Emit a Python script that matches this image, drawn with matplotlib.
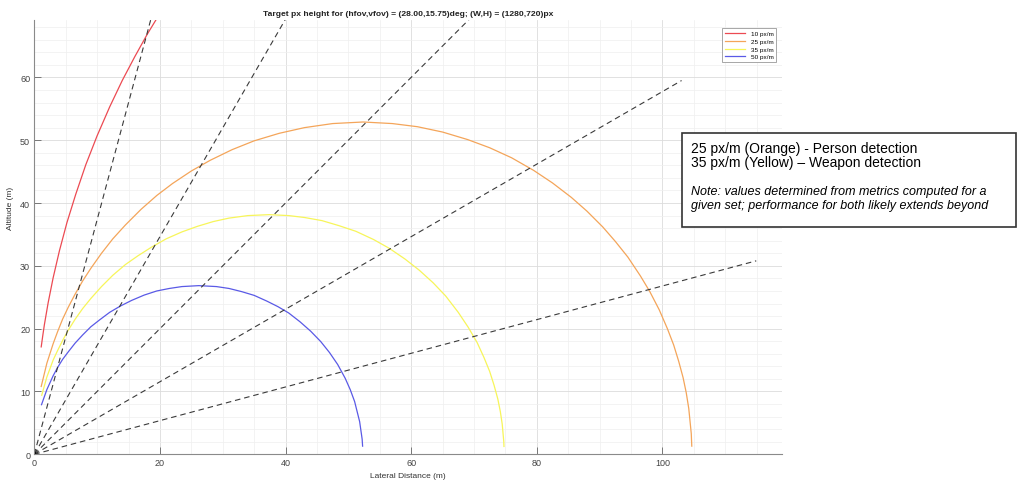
import numpy as np
import matplotlib
matplotlib.use("Agg")
import matplotlib.pyplot as plt
from matplotlib.patches import Rectangle
from matplotlib.ticker import MultipleLocator

plt.rcParams["font.family"] = ["Liberation Sans", "DejaVu Sans"]

# curves (lateral distance, altitude), one per px/m level
labels = ["10 px/m", "25 px/m", "35 px/m", "50 px/m"]
colors = ["#ec4a52", "#f4a55a", "#f7f55a", "#5a5ae6"]

x_10 = [1.1, 1.35, 1.6, 2.2, 3, 4, 5.2, 6.6, 8.2, 10, 12, 14, 16, 18, 19.7, 21]
y_10 = [17.1, 18.9, 20.6, 24.1, 28.1, 32.4, 36.9, 41.4, 46.1, 50.7, 55.3, 59.5, 63.3, 66.9, 69.7, 71.8]

x_25 = [1.1, 2, 3, 3.7, 4.5, 5.4, 6.5, 7.7, 9, 10.7, 12.5, 14.5, 17, 19.5, 22, 25, 28,
        31.5, 35, 39, 43, 47.5, 52.35, 57, 61, 65, 69, 72.5, 76, 79.5, 82.5, 85.5, 88,
        90.5, 92.5, 94.5, 96.5, 98, 99.5, 100.8, 101.8, 102.6, 103.3, 103.8, 104.2,
        104.6, 104.68]
y_25 = [10.8, 14.5, 17.6, 19.5, 21.5, 23.4, 25.5, 27.6, 29.6, 32.0, 34.3, 36.5, 39.0,
        41.2, 43.1, 45.1, 46.8, 48.5, 49.9, 51.1, 52.0, 52.65, 52.9, 52.65, 52.15, 51.3,
        50.1, 48.8, 47.2, 45.2, 43.2, 40.9, 38.7, 36.2, 33.9, 31.4, 28.4, 25.9, 23.0,
        20.0, 17.4, 14.8, 12.2, 9.8, 7.3, 3.3, 1.3]

x_35 = [1.18, 2, 3, 3.7, 4.5, 5.4, 6.5, 7.7, 9, 10.7, 12.5, 14.5, 16.5, 18.7, 21, 23.5,
        26, 28.5, 31, 34, 37.4, 40.5, 43, 45.8, 48.5, 51.2, 54, 56.5, 59, 61.3, 63.5,
        65.5, 67.5, 69.1, 70.5, 71.6, 72.5, 73.2, 73.8, 74.2, 74.5, 74.75, 74.78]
y_35 = [9.4, 12.3, 15.0, 16.5, 18.1, 19.75, 21.5, 23.2, 24.8, 26.7, 28.5, 30.2, 31.6,
        33.0, 34.3, 35.4, 36.3, 37.05, 37.6, 38.0, 38.15, 38.0, 37.7, 37.2, 36.4, 35.5,
        34.2, 32.8, 31.1, 29.3, 27.3, 25.2, 22.6, 20.2, 17.8, 15.4, 13.2, 11.0, 8.8,
        6.8, 4.8, 2.0, 1.25]

x_50 = [1.15, 2, 3, 3.7, 4.5, 5.4, 6.5, 7.7, 9, 10.4, 12, 13.7, 15.5, 17.5, 19.5, 21.5,
        23.5, 26.2, 29, 31, 33, 35, 37, 38.8, 40.5, 42.3, 44, 45.6, 47, 48.3, 49.5, 50.3,
        51, 51.8, 52.2, 52.27]
y_50 = [7.9, 10.3, 12.5, 13.8, 15.1, 16.3, 17.7, 19.0, 20.3, 21.4, 22.6, 23.6, 24.5,
        25.35, 26.0, 26.4, 26.7, 26.85, 26.7, 26.4, 25.9, 25.3, 24.4, 23.5, 22.5, 21.1,
        19.6, 17.95, 16.2, 14.3, 12.1, 10.3, 8.4, 5.2, 2.4, 1.3]

curves_x = [x_10, x_25, x_35, x_50]
curves_y = [y_10, y_25, y_35, y_50]

# dashed sight lines from the camera
ray_angles = [15, 30, 45, 60, 75]
ray_length = 119

fig = plt.figure(figsize=(10.2, 4.81), dpi=100)
ax = fig.add_axes([0.03363, 0.05343, 0.73275, 0.90374])

for xs, ys, c, lab in zip(curves_x, curves_y, colors, labels):
    ax.plot(xs, ys, color=c, lw=0.9, label=lab)

for a in ray_angles:
    t = np.radians(a)
    ax.plot([0, ray_length * np.cos(t)], [0, ray_length * np.sin(t)],
            color="#3a3a3a", lw=0.8, ls=(0, (5, 3.5)))

ax.plot([0], [0], marker="^", color="black", ms=4)

ax.set_xlim(0, 119)
ax.set_ylim(0, 69.2)
ax.xaxis.set_major_locator(MultipleLocator(20))
ax.yaxis.set_major_locator(MultipleLocator(10))
ax.xaxis.set_minor_locator(MultipleLocator(5))
ax.yaxis.set_minor_locator(MultipleLocator(2))
ax.grid(True, which="major", color="#dcdcdc", lw=0.6)
ax.grid(True, which="minor", color="#efefef", lw=0.5)
ax.set_axisbelow(True)
ax.tick_params(which="major", direction="in", length=5, width=0.6, colors="#666666",
               labelsize=6.5, labelcolor="#444444", pad=3)
ax.tick_params(which="minor", length=0)
for s in ["top", "right"]:
    ax.spines[s].set_visible(False)
for s in ["left", "bottom"]:
    ax.spines[s].set_color("#8a8a8a")
    ax.spines[s].set_linewidth(0.8)

ax.set_xlabel("Lateral Distance (m)", fontsize=6, color="#333333")
ax.xaxis.set_label_coords(0.5, -0.04)
ax.set_ylabel("Altitude (m)", fontsize=6, color="#333333")
ax.yaxis.set_label_coords(-0.027, 0.567)

fig.text(0.4, 0.969, "Target px height for (hfov,vfov) = (28.00,15.75)deg; (W,H) = (1280,720)px",
         ha="center", va="center", fontsize=6.1, fontweight="bold", color="#222222")

leg = ax.legend(loc="upper right", bbox_to_anchor=(0.9924, 0.980), borderaxespad=0,
                fontsize=4.6, handlelength=3.2, labelspacing=0.35, borderpad=0.4,
                fancybox=False, framealpha=1)
leg.get_frame().set_edgecolor("#999999")
leg.get_frame().set_linewidth(0.6)

# note box on the right
fig.add_artist(Rectangle((0.6686, 0.526), 0.3275, 0.1954, transform=fig.transFigure,
                         facecolor="white", edgecolor="#333333", lw=1.2))
fig.text(0.6778, 0.690, "25 px/m (Orange) - Person detection", fontsize=10, va="center")
fig.text(0.6778, 0.661, "35 px/m (Yellow) \u2013 Weapon detection", fontsize=10, va="center")
fig.text(0.6778, 0.6015, "Note: values determined from metrics computed for a",
         fontsize=9, style="italic", va="center")
fig.text(0.6778, 0.5723, "given set; performance for both likely extends beyond",
         fontsize=9, style="italic", va="center")

fig.savefig("out.png", dpi=100)
